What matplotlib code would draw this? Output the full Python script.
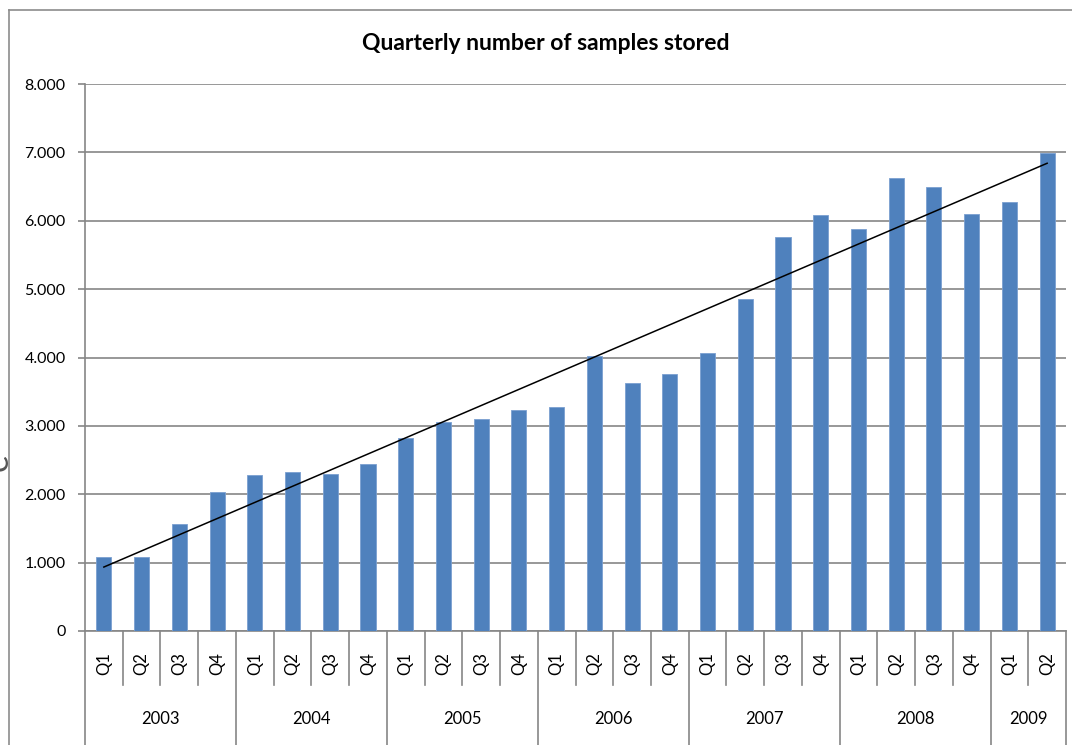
import numpy as np
import matplotlib
matplotlib.use("Agg")
import matplotlib.pyplot as plt
from matplotlib.lines import Line2D

plt.rcParams['font.family'] = ['Lato', 'DejaVu Sans']

years = ["2003", "2004", "2005", "2006", "2007", "2008", "2009"]
quarters_per_year = [4, 4, 4, 4, 4, 4, 2]
quarter_labels = ["Q1", "Q2", "Q3", "Q4"]
samples = [1080, 1075, 1565, 2030,
           2275, 2330, 2290, 2440,
           2820, 3055, 3100, 3230,
           3275, 4020, 3625, 3760,
           4065, 4855, 5760, 6080,
           5880, 6625, 6490, 6100,
           6275, 6990]
yticks = [0, 1000, 2000, 3000, 4000, 5000, 6000, 7000, 8000]
title = "Quarterly number of samples stored"

W, H = 1072, 745
fig = plt.figure(figsize=(W / 100, H / 100), dpi=100)
ax_left, ax_right, ax_top, ax_bottom = 85, 1066, 84, 631
ax = fig.add_axes([ax_left / W, 1 - ax_bottom / H, (ax_right - ax_left) / W, (ax_bottom - ax_top) / H])

grid_c = '#868686'
bar_c = '#4F81BD'
n = len(samples)
x = np.arange(n)
ax.bar(x, samples, width=0.4, color=bar_c, edgecolor='#7a9fd0', linewidth=0.6, zorder=3)

# linear trendline
coef = np.polyfit(x, samples, 1)
ax.plot([x[0], x[-1]], np.polyval(coef, [x[0], x[-1]]), color='black', lw=1.1, zorder=4)

ax.set_xlim(-0.5, n - 0.5)
ax.set_ylim(0, 8000)
ax.set_yticks(yticks)
ax.set_yticklabels([f"{v:,}".replace(",", ".") for v in yticks], fontsize=11.5)
ax.yaxis.grid(True, color=grid_c, lw=1.2, zorder=0)
ax.tick_params(axis='y', length=5, width=1.2, color=grid_c, pad=9)
ax.set_xticks([])
for s in ['top', 'right']:
    ax.spines[s].set_visible(False)
for s in ['left', 'bottom']:
    ax.spines[s].set_color(grid_c)
    ax.spines[s].set_linewidth(1.2)

axh = ax_bottom - ax_top
def fy(px):
    return -px / axh

trans = ax.get_xaxis_transform()
# quarter labels and separators
i = 0
for yr, nq in zip(years, quarters_per_year):
    start = i
    for q in range(nq):
        ax.text(i, fy(33), quarter_labels[q], rotation=90, ha='center', va='center',
                fontsize=12, transform=trans, clip_on=False)
        if q > 0:
            ax.add_line(Line2D([i - 0.5, i - 0.5], [0, fy(54)], color=grid_c, lw=1.2,
                               transform=trans, clip_on=False))
        i += 1
    ax.add_line(Line2D([start - 0.5, start - 0.5], [0, fy(130)], color=grid_c, lw=1.2,
                       transform=trans, clip_on=False))
    ax.text((start + i - 1) / 2, fy(88), yr, ha='center', va='center', fontsize=12,
            transform=trans, clip_on=False)
ax.add_line(Line2D([n - 0.5, n - 0.5], [0, fy(130)], color=grid_c, lw=1.2,
                   transform=trans, clip_on=False))

fig.text(546 / W, 1 - 43 / H, title, ha='center', va='center', fontsize=16.5, fontweight='bold')

# outer chart border
fig.add_artist(Line2D([9 / W, 9 / W], [0, 1 - 10 / H], color='#8c8c8c', lw=1.2))
fig.add_artist(Line2D([9 / W, 1], [1 - 10 / H, 1 - 10 / H], color='#8c8c8c', lw=1.2))
# fragment of a letter at the left edge
fig.text(14 / W, 1 - 462 / H, 'e', rotation=90, ha='right', va='center', fontsize=24, color='#555555')

fig.savefig('out.png', dpi=100)
